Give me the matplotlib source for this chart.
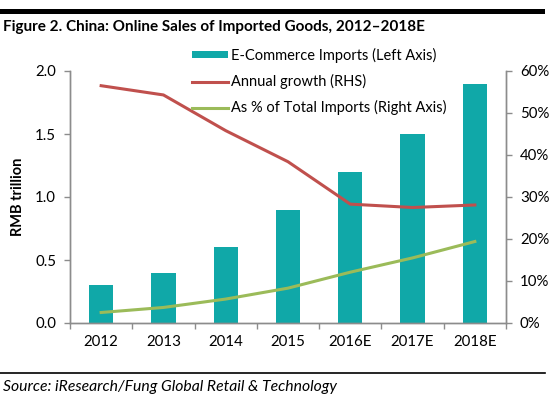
import numpy as np
import matplotlib.pyplot as plt
from matplotlib.patches import Rectangle, Patch
from matplotlib.lines import Line2D

# данные
years = ['2012', '2013', '2014', '2015', '2016E', '2017E', '2018E']
imports_rmb = [0.3, 0.4, 0.6, 0.9, 1.2, 1.5, 1.9]
annual_growth = [56.5, 54.3, 45.8, 38.4, 28.3, 27.5, 28.1]
share_total = [2.5, 3.7, 5.7, 8.3, 12.1, 15.5, 19.4]

teal = '#10a8a8'
red = '#c0504d'
green = '#9bbb59'
grey = '#8c8c8c'

plt.rcParams['font.family'] = ['Lato', 'DejaVu Sans']

fig = plt.figure(figsize=(5.5, 4), dpi=100)
ax = fig.add_axes([70 / 550, 1 - 323 / 400, 436 / 550, 252 / 400])
ax2 = ax.twinx()

x = np.arange(len(years))
ax.bar(x, imports_rmb, width=0.39, color=teal, zorder=2)
ax2.plot(x, annual_growth, color=red, lw=2.2)
ax2.plot(x, share_total, color=green, lw=2.2)

ax.set_xlim(-0.5, len(years) - 0.5)
ax.set_ylim(0, 2.0)
ax.set_yticks([0, 0.5, 1.0, 1.5, 2.0])
ax.set_yticklabels(['0.0', '0.5', '1.0', '1.5', '2.0'])
ax2.set_ylim(0, 60)
ax2.set_yticks(range(0, 61, 10))
ax2.set_yticklabels([f'{v}%' for v in range(0, 61, 10)])

ax.set_xticks(x)
ax.set_xticklabels(years)
ax.set_xticks(np.arange(-0.5, len(years)), minor=True)
ax.tick_params(axis='x', which='major', length=0, pad=9)
ax.tick_params(axis='x', which='minor', length=4, color=grey, width=1)
ax.tick_params(axis='y', length=4, color=grey, width=1, labelsize=10.8, pad=6)
ax.tick_params(axis='x', labelsize=10.8)
ax2.tick_params(axis='y', length=4, color=grey, width=1, labelsize=10.8, pad=6)

for a in (ax, ax2):
    a.spines['top'].set_visible(False)
    for s in ('left', 'right', 'bottom'):
        a.spines[s].set_color(grey)
        a.spines[s].set_linewidth(1)

ax.set_ylabel('RMB trillion', fontsize=10.5, fontweight='bold', labelpad=7)

handles = [Patch(facecolor=teal, edgecolor='none'),
           Line2D([], [], color=red, lw=2.2),
           Line2D([], [], color=green, lw=2.2)]
labels = ['E-Commerce Imports (Left Axis)', 'Annual growth (RHS)',
          'As % of Total Imports (Right Axis)']
fig.legend(handles, labels, loc='upper left', bbox_to_anchor=(192 / 550, 1 - 48 / 400),
           frameon=False, fontsize=10.5, handlelength=2.5, handleheight=0.35,
           handletextpad=0.2, labelspacing=0.75, borderaxespad=0, borderpad=0)

# оформление: полоса сверху, заголовок, источник
fig.add_artist(Rectangle((0, 1 - 14 / 400), 545 / 550, 5 / 400,
                         transform=fig.transFigure, color='black', lw=0))
fig.text(3 / 550, 1 - 27 / 400, 'Figure 2. China: Online Sales of Imported Goods, 2012\u20132018E',
         fontsize=11, fontweight='bold', va='center', ha='left')
fig.add_artist(Line2D([0, 545 / 550], [1 - 373 / 400] * 2, transform=fig.transFigure,
                      color='black', lw=1.2))
fig.text(3 / 550, 1 - 387 / 400, 'Source: iResearch/Fung Global Retail & Technology',
         fontsize=11.3, style='italic', va='center', ha='left')

fig.savefig('out.png', dpi=100)
